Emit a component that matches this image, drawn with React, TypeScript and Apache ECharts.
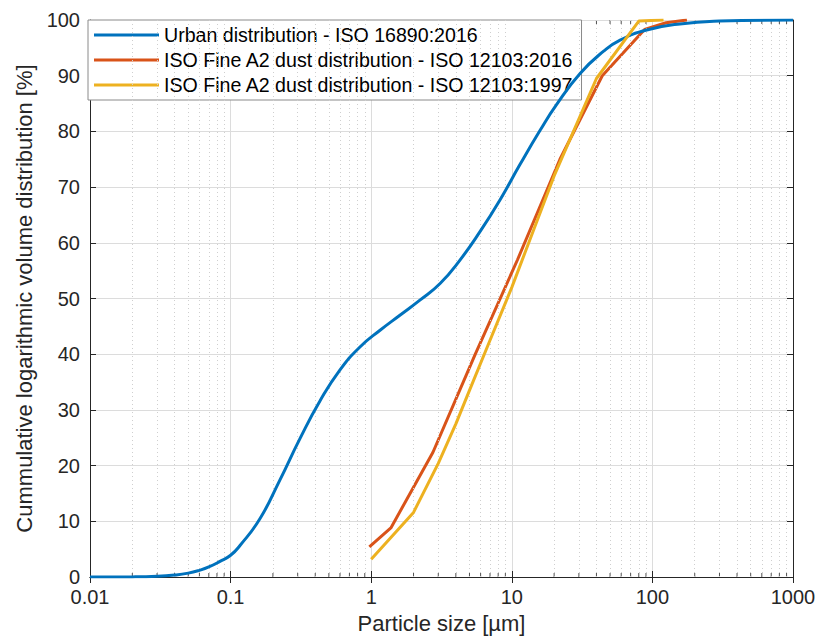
import React, { useEffect, useRef } from "react";
import * as echarts from "echarts";

const seriesNames = [
  "Urban distribution - ISO 16890:2016",
  "ISO Fine A2 dust distribution - ISO 12103:2016",
  "ISO Fine A2 dust distribution - ISO 12103:1997",
];

const urbanX = [0.01, 0.02, 0.03, 0.04, 0.05, 0.06, 0.07, 0.084, 0.1, 0.117, 0.162, 0.224, 0.312, 0.432, 0.6, 0.832, 1.156, 1.6, 2.22, 3.09, 4.28, 5.94, 8.24, 11.4, 15.9, 20.8, 30.6, 45, 58.9, 91, 157, 300, 1000];
const urbanY = [0, 0.02, 0.12, 0.35, 0.7, 1.2, 1.8, 2.8, 3.9, 5.7, 10.5, 17.4, 24.9, 31.6, 37.2, 41.3, 44.3, 47.0, 49.7, 52.7, 56.9, 62.0, 67.7, 74.0, 80.2, 84.8, 90.4, 94.4, 96.4, 98.2, 99.3, 99.8, 100];

const a2016X = [0.97, 1.38, 2.75, 5.5, 11, 22, 44, 88, 125, 176];
const a2016Y = [5.4, 8.8, 22.4, 40, 57, 75, 90, 98.3, 99.5, 100];

const a1997X = [1, 2, 3, 4, 5, 7, 10, 20, 40, 80, 120];
const a1997Y = [3.2, 11.6, 20.4, 27.5, 33.5, 42.5, 52, 72, 89.5, 99.8, 100];

const minorX = [
  0.02, 0.03, 0.04, 0.05, 0.06, 0.07, 0.08, 0.09,
  0.2, 0.3, 0.4, 0.5, 0.6, 0.7, 0.8, 0.9,
  2, 3, 4, 5, 6, 7, 8, 9,
  20, 30, 40, 50, 60, 70, 80, 90,
  200, 300, 400, 500, 600, 700, 800, 900,
];

const colors = ["#0072BD", "#D95319", "#EDB120"];
const FONT = "'Liberation Sans', Arial, sans-serif";
const AX = "#262626";

const zip = (xs: number[], ys: number[]) => xs.map((x, i) => [x, ys[i]]);

export default function App() {
  const ref = useRef<HTMLDivElement>(null);
  useEffect(() => {
    if (!ref.current) return;
    const chart = echarts.init(ref.current, undefined, { renderer: "svg" });
    const fmt = (v: number) => String(parseFloat(Number(v).toPrecision(6)));
    const option: any = {
      animation: false,
      backgroundColor: "#ffffff",
      textStyle: { fontFamily: FONT },
      grid: { left: 90, right: 26, top: 20, bottom: 62 },
      legend: {
        orient: "vertical",
        left: 88,
        top: 20,
        padding: [5, 8, 5, 6],
        itemGap: 5,
        itemWidth: 65,
        itemHeight: 3,
        icon: "rect",
        backgroundColor: "#ffffff",
        borderColor: "#8a8a8a",
        borderWidth: 1,
        data: seriesNames,
        textStyle: { fontFamily: FONT, fontSize: 19.6, color: "#000", lineHeight: 19 },
      },
      xAxis: [
        {
          type: "log",
          logBase: 10,
          min: 0.01,
          max: 1000,
          position: "bottom",
          name: "Particle size [µm]",
          nameLocation: "middle",
          nameGap: 35,
          nameTextStyle: { fontFamily: FONT, fontSize: 22, color: AX },
          axisLine: { show: true, lineStyle: { color: AX, width: 1 } },
          axisTick: { show: true, inside: true, length: 6, lineStyle: { color: AX } },
          axisLabel: { formatter: fmt, fontFamily: FONT, fontSize: 20, color: AX, margin: 10 },
          splitLine: { show: true, lineStyle: { color: "#dcdcdc", width: 1 } },
        },
        {
          type: "log",
          logBase: 10,
          min: 0.01,
          max: 1000,
          position: "top",
          axisLine: { show: true, lineStyle: { color: AX, width: 1 } },
          axisTick: { show: true, inside: true, length: 6, lineStyle: { color: AX } },
          axisLabel: { show: false },
          splitLine: { show: false },
        },
      ],
      yAxis: [
        {
          type: "value",
          min: 0,
          max: 100,
          interval: 10,
          position: "left",
          name: "Cummulative logarithmic volume distribution [%]",
          nameLocation: "middle",
          nameGap: 49,
          nameTextStyle: { fontFamily: FONT, fontSize: 22, color: AX },
          axisLine: { show: true, lineStyle: { color: AX, width: 1 } },
          axisTick: { show: true, inside: true, length: 6, lineStyle: { color: AX } },
          axisLabel: { fontFamily: FONT, fontSize: 20, color: AX, margin: 10 },
          splitLine: { show: true, lineStyle: { color: "#dcdcdc", width: 1 } },
        },
        {
          type: "value",
          min: 0,
          max: 100,
          interval: 10,
          position: "right",
          axisLine: { show: true, lineStyle: { color: AX, width: 1 } },
          axisTick: { show: true, inside: true, length: 6, lineStyle: { color: AX } },
          axisLabel: { show: false },
          splitLine: { show: false },
        },
      ],
      series: [
        {
          name: "minorGrid",
          type: "line",
          data: [],
          silent: true,
          markLine: {
            silent: true,
            symbol: "none",
            label: { show: false },
            lineStyle: { color: "#cfcfcf", type: [1, 3], width: 1 },
            data: minorX.map((v) => ({ xAxis: v })),
          },
        },
        {
          name: "minorTicksBottom",
          type: "scatter",
          silent: true,
          symbol: "rect",
          symbolSize: [1, 4],
          symbolOffset: [0, -2],
          itemStyle: { color: AX },
          data: minorX.map((v) => [v, 0]),
          z: 1,
        },
        {
          name: "minorTicksTop",
          type: "scatter",
          silent: true,
          symbol: "rect",
          symbolSize: [1, 4],
          symbolOffset: [0, 2],
          itemStyle: { color: AX },
          data: minorX.map((v) => [v, 100]),
          z: 1,
        },
        {
          name: seriesNames[0],
          type: "line",
          data: zip(urbanX, urbanY),
          smooth: 0.5,
          symbol: "none",
          lineStyle: { color: colors[0], width: 3 },
          itemStyle: { color: colors[0] },
          z: 5,
        },
        {
          name: seriesNames[1],
          type: "line",
          data: zip(a2016X, a2016Y),
          symbol: "none",
          lineStyle: { color: colors[1], width: 3 },
          itemStyle: { color: colors[1] },
          z: 4,
        },
        {
          name: seriesNames[2],
          type: "line",
          data: zip(a1997X, a1997Y),
          symbol: "none",
          lineStyle: { color: colors[2], width: 3 },
          itemStyle: { color: colors[2] },
          z: 6,
        },
      ],
    };
    chart.setOption(option);
    return () => chart.dispose();
  }, []);
  return (
    <div
      ref={ref}
      style={{ position: "fixed", left: 0, top: 0, width: 819, height: 639, background: "#fff" }}
    />
  );
}
